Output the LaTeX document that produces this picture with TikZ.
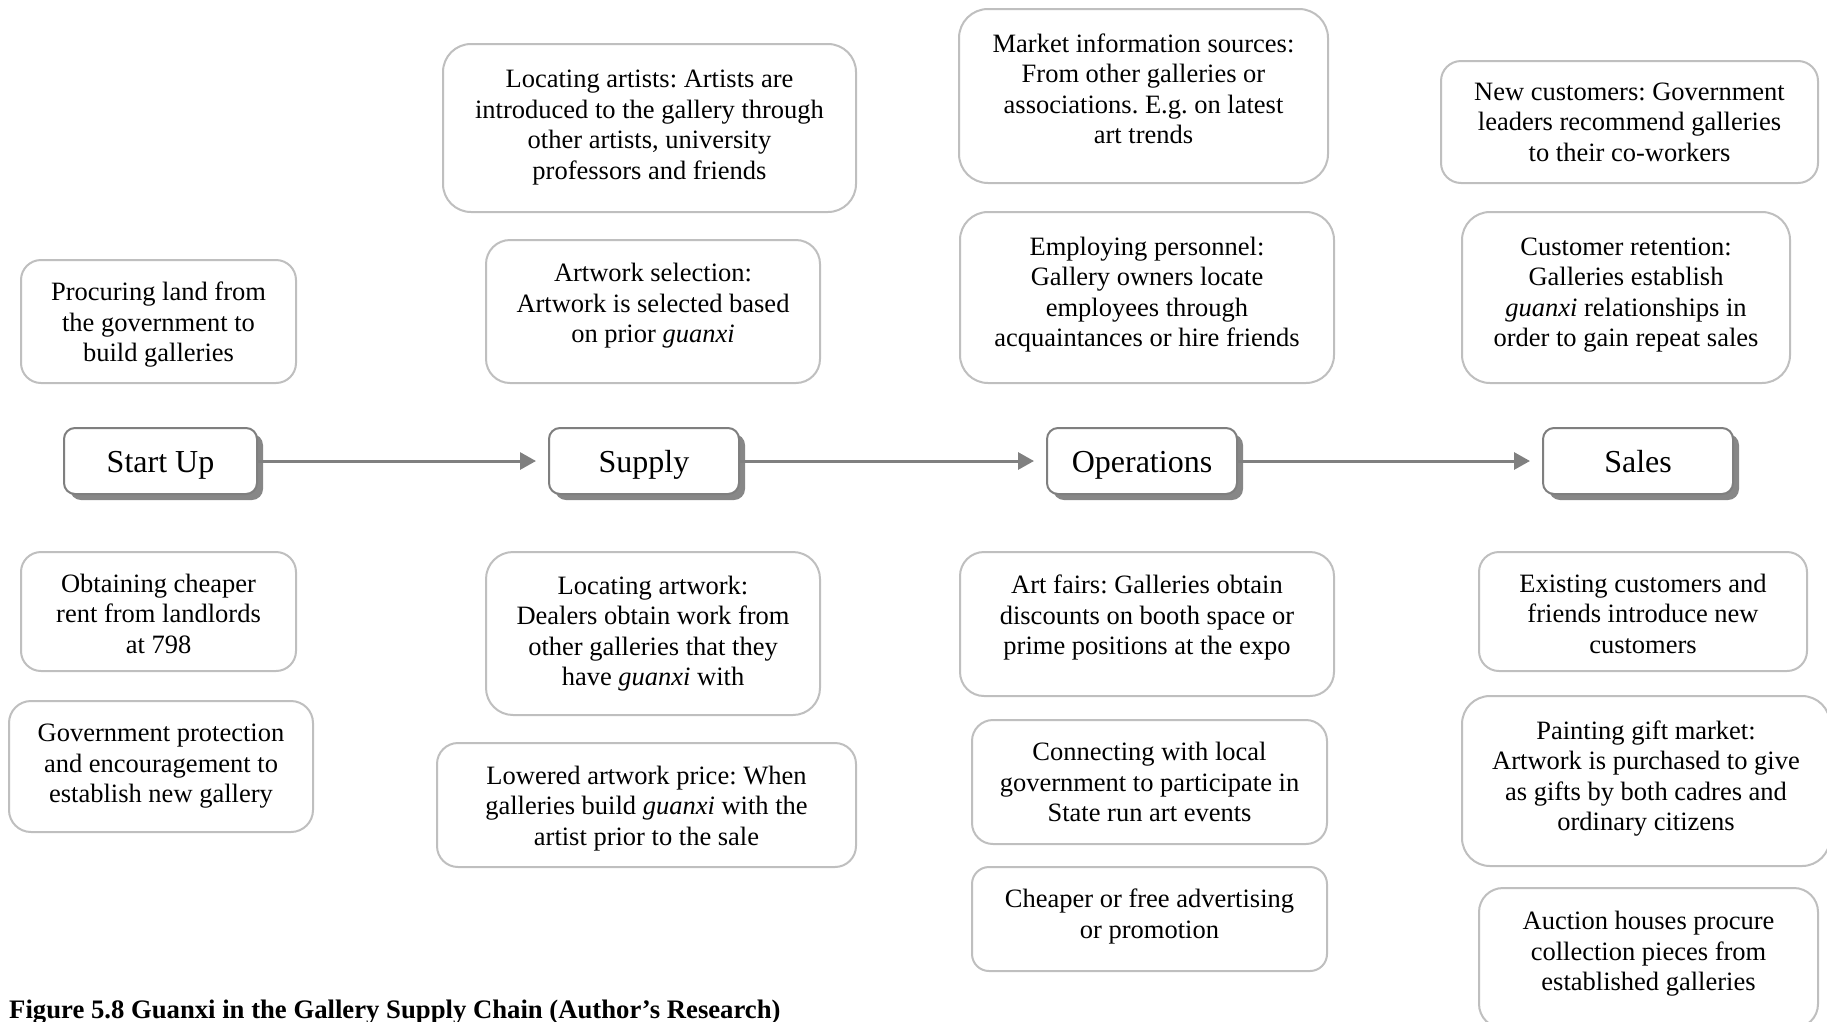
\documentclass[tikz,border=0pt]{standalone}
\usepackage{fontspec}
\setmainfont{Liberation Serif}
\usetikzlibrary{arrows.meta,shadows}
\frenchspacing
\definecolor{lightedge}{HTML}{BFBFBF}
\definecolor{darkedge}{HTML}{7F7F7F}
\definecolor{shadowgray}{HTML}{878787}
\definecolor{flowgray}{HTML}{808080}
\tikzset{
  note/.style={draw=lightedge, line width=2pt, fill=white, inner sep=0pt},
  notetext/.style={align=center, inner sep=0pt, font=\fontsize{26.5}{30.5}\selectfont},
  stage/.style={draw=darkedge, line width=2pt, fill=white, align=center,
    inner sep=0pt, minimum height=66pt, rounded corners=11pt,
    text height=25pt, text depth=3pt,
    font=\fontsize{32}{36}\selectfont,
    drop shadow={shadow xshift=6pt, shadow yshift=-6pt, fill=shadowgray, opacity=1}},
  flow/.style={draw=flowgray, line width=3pt,
    -{Triangle[length=16pt,width=17pt]}, shorten >=12pt},
}
% rounded box with its text: name, centre x, centre y, width, height, corner radius, text offset, text
\newcommand\infobox[8]{%
  \node[note, minimum width=#4pt, minimum height=#5pt, rounded corners=#6pt] (#1) at (#2,#3) {};
  \node[notetext] (#1-text) at ([shift={(0,#7)}]#1.center) {#8};
}
\begin{document}
\begin{tikzpicture}[x=1pt, y=-1pt]
\useasboundingbox (0,0) rectangle (1827,1021);
\clip (0,0) rectangle (1827,1021);

% stages of the supply chain
\node[stage, minimum width=193pt] (startup) at (160.5,461) {Start Up};
\node[stage, minimum width=190pt] (supply) at (644,461) {Supply};
\node[stage, minimum width=190pt] (ops) at (1142,461) {Operations};
\node[stage, minimum width=190pt] (sales) at (1638,461) {Sales};

\draw[flow] (startup) -- (supply);
\draw[flow] (supply) -- (ops);
\draw[flow] (ops) -- (sales);

% start up
\infobox{proc}{158.5}{321.5}{275}{123}{20}{3.5}
  {Procuring land from\\the government to\\build galleries}
\infobox{obtain}{158.5}{611.5}{275}{119}{20}{2.3}
  {Obtaining cheaper\\rent from landlords\\at 798}
\infobox{govt}{161}{766.5}{304}{131}{22}{0}
  {Government protection\\and encouragement to\\establish new gallery}

% supply
\infobox{artists}{649.5}{128}{413}{168}{28}{-0.5}
  {Locating artists: Artists are\\introduced to the gallery through\\other artists, university\\professors and friends}
\infobox{selection}{653}{311.5}{334}{143}{24}{-5.5}
  {Artwork selection:\\Artwork is selected based\\on prior \textit{guanxi}}
\infobox{locwork}{653}{633.5}{334}{163}{27}{0}
  {Locating artwork:\\Dealers obtain work from\\other galleries that they\\have \textit{guanxi} with}
\infobox{lowered}{646.5}{805}{419}{124}{21}{3.5}
  {Lowered artwork price: When\\galleries build \textit{guanxi} with the\\artist prior to the sale}

% operations
\infobox{market}{1143.5}{96}{369}{174}{29}{-7}
  {Market information sources:\\From other galleries or\\associations. E.g. on latest\\art trends}
\infobox{employ}{1147}{297.5}{374}{171}{28}{-3}
  {Employing personnel:\\Gallery owners locate\\employees through\\acquaintances or hire friends}
\infobox{fairs}{1147}{624}{374}{144}{24}{-6.4}
  {Art fairs: Galleries obtain\\discounts on booth space or\\prime positions at the expo}
\infobox{connect}{1149.5}{782}{355}{124}{21}{0}
  {Connecting with local\\government to participate in\\State run art events}
\infobox{cheaper}{1149.5}{919}{355}{104}{17}{-2.3}
  {Cheaper or free advertising\\or promotion}

% sales
\infobox{newcust}{1629.5}{122}{377}{122}{20}{0}
  {New customers: Government\\leaders recommend galleries\\to their co-workers}
\infobox{retention}{1626}{297.5}{328}{171}{28}{-2.3}
  {Customer retention:\\Galleries establish\\\textit{guanxi} relationships in\\order to gain repeat sales}
\infobox{existing}{1643}{611.5}{328}{119}{20}{2.3}
  {Existing customers and\\friends introduce new\\customers}
\infobox{painting}{1646}{781}{368}{170}{28}{-2.3}
  {Painting gift market:\\Artwork is purchased to give\\as gifts by both cadres and\\ordinary citizens}
\infobox{auction}{1648.5}{958}{339}{140}{24}{-4}
  {Auction houses procure\\collection pieces from\\established galleries}

% caption
\node[anchor=base west, inner sep=0pt, font=\bfseries\fontsize{26.7}{30}\selectfont] (caption) at (9,1018)
  {Figure 5.8 Guanxi in the Gallery Supply Chain (Author's Research)};
\end{tikzpicture}
\end{document}
